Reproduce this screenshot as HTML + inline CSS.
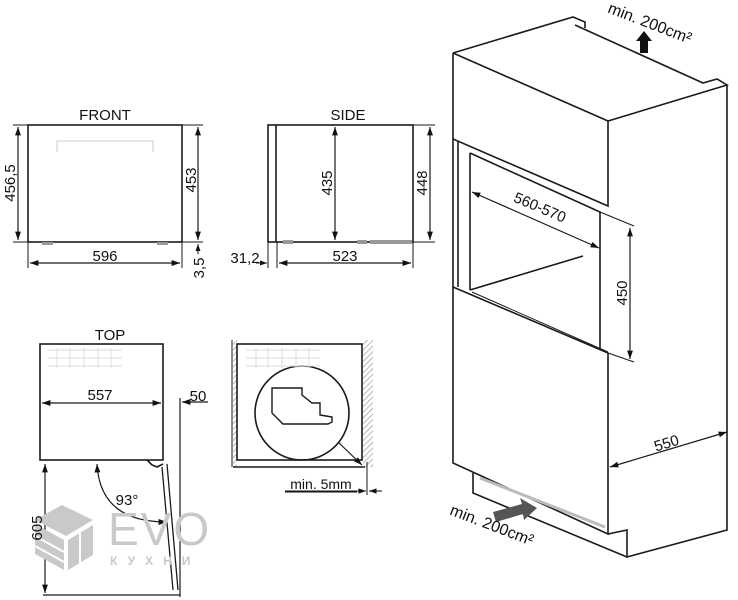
<!DOCTYPE html>
<html><head><meta charset="utf-8"><style>
html,body{margin:0;padding:0;background:#fff;}
svg{display:block;font-family:"Liberation Sans","DejaVu Sans",sans-serif;}
</style></head><body>
<svg width="738" height="600" viewBox="0 0 738 600" xmlns="http://www.w3.org/2000/svg">
<defs>
<marker id="a" viewBox="0 0 10 10" refX="10" refY="5" markerWidth="7" markerHeight="7" orient="auto-start-reverse"><path d="M0,1.5 L10,5 L0,8.5 z" fill="#111"/></marker>
<pattern id="h" width="4" height="4" patternUnits="userSpaceOnUse" patternTransform="rotate(45)"><line x1="0" y1="0" x2="0" y2="4" stroke="#888" stroke-width="1.2"/></pattern>
</defs>
<g stroke="#1a1a1a" stroke-width="1.6" fill="none">
<!-- FRONT -->
<rect x="28" y="125" width="154" height="117"/>
<path d="M57,152 V141 H153 V152" stroke="#ccc" stroke-width="1"/>
<line x1="18" y1="127" x2="18" y2="240" marker-start="url(#a)" marker-end="url(#a)" stroke-width="1.2"/>
<line x1="13" y1="125" x2="28" y2="125" stroke-width="1"/><line x1="13" y1="242" x2="28" y2="242" stroke-width="1"/>
<line x1="198" y1="127" x2="198" y2="240" marker-start="url(#a)" marker-end="url(#a)" stroke-width="1.2"/>
<line x1="182" y1="125" x2="203" y2="125" stroke-width="1"/><line x1="182" y1="242" x2="203" y2="242" stroke-width="1"/>
<line x1="198" y1="254" x2="198" y2="244" marker-end="url(#a)" stroke-width="1"/>
<line x1="30" y1="263" x2="180" y2="263" marker-start="url(#a)" marker-end="url(#a)" stroke-width="1.2"/>
<line x1="28" y1="242" x2="28" y2="268" stroke-width="1"/><line x1="182" y1="242" x2="182" y2="268" stroke-width="1"/>
<!-- SIDE -->
<rect x="268" y="125" width="145" height="117"/>
<line x1="276" y1="125" x2="276" y2="242"/>
<line x1="335" y1="127" x2="335" y2="240" marker-start="url(#a)" marker-end="url(#a)" stroke-width="1.2"/>
<line x1="430" y1="127" x2="430" y2="240" marker-start="url(#a)" marker-end="url(#a)" stroke-width="1.2"/>
<line x1="413" y1="125" x2="435" y2="125" stroke-width="1"/><line x1="413" y1="242" x2="435" y2="242" stroke-width="1"/>
<line x1="279" y1="263" x2="411" y2="263" marker-start="url(#a)" marker-end="url(#a)" stroke-width="1.2"/>
<line x1="268" y1="242" x2="268" y2="268" stroke-width="1"/><line x1="277" y1="242" x2="277" y2="268" stroke-width="1"/><line x1="413" y1="242" x2="413" y2="268" stroke-width="1"/>
<line x1="256" y1="263" x2="267" y2="263" marker-end="url(#a)" stroke-width="1"/>
<!-- TOP -->
<rect x="40" y="344" width="123" height="116"/>
<line x1="42" y1="403" x2="161" y2="403" marker-start="url(#a)" marker-end="url(#a)" stroke-width="1.2"/>
<path d="M147,460 L152,465 L157,467 L163,464"/>
<path d="M162,467 L173,590 M167,464 L178,590" stroke-width="1.3"/>
<line x1="180" y1="398" x2="180" y2="597" stroke-width="1.2"/>
<line x1="208" y1="402" x2="182" y2="402" marker-end="url(#a)" stroke-width="1.2"/>
<line x1="45" y1="464" x2="45" y2="593" marker-start="url(#a)" marker-end="url(#a)" stroke-width="1.2"/>
<line x1="43" y1="595" x2="180" y2="595" stroke-width="1.2"/>
<path d="M97,464 Q100,522 167,522" marker-start="url(#a)" marker-end="url(#a)" stroke-width="1.2"/>
<!-- TOP detail -->
<rect x="233" y="340" width="4" height="127" fill="url(#h)" stroke="none"/>
<rect x="363" y="340" width="10" height="127" fill="url(#h)" stroke="none"/>
<line x1="232" y1="340" x2="232" y2="467" stroke-width="1"/>
<rect x="237" y="344" width="125" height="116"/>
<line x1="233" y1="467" x2="365" y2="467"/>
<circle cx="302" cy="413" r="47"/>
<path d="M272,388 L302,388 L302,395 L312,403 L320,403 L320,415 L332,417 L332,422 L328,424 L283,424 L272,413 Z" stroke-width="1.4"/>
<line x1="338" y1="442" x2="362" y2="465" marker-end="url(#a)" stroke-width="1.2"/>
<line x1="367" y1="462" x2="367" y2="495" stroke-width="1"/>
<line x1="285" y1="491" x2="366" y2="491" marker-end="url(#a)" stroke-width="1.1"/>
<line x1="382" y1="491" x2="369" y2="491" marker-end="url(#a)" stroke-width="1.1"/>
<!-- CABINET -->
<path d="M453,53 L573,17 L585,22 L585,28"/>
<path d="M575,25 L703,83 L717,79 L727,85 L608,121 L453,53"/>
<path d="M453,53 V139 L608,206 V121 M727,85 V530 L627,557 V530 L608,534"/>
<path d="M453,139 V287 M458,141 V287"/>
<path d="M470,153 V290 M470,153 L600,212 V350 M470,290 L583,256"/>
<path d="M453,287 L608,353 V534 L453,463 V287 Z"/>
<path d="M472,292 L608,352" stroke-width="1"/>
<path d="M473,473 V493 L627,557"/>
<path d="M480,478 L605,527" stroke="#bbb" stroke-width="3"/>
<line x1="600" y1="212" x2="634" y2="226" stroke-width="1.1"/>
<line x1="608" y1="353" x2="634" y2="362" stroke-width="1.1"/>
<line x1="630" y1="228" x2="630" y2="359" marker-start="url(#a)" marker-end="url(#a)" stroke-width="1.2"/>
<line x1="472" y1="192" x2="599" y2="248" marker-start="url(#a)" marker-end="url(#a)" stroke-width="1.2"/>
<line x1="610" y1="467" x2="727" y2="432" marker-start="url(#a)" marker-end="url(#a)" stroke-width="1.2"/>
</g>
<!-- feet -->
<g fill="#999"><rect x="42" y="242" width="11" height="3"/><rect x="157" y="242" width="11" height="3"/>
<rect x="283" y="240" width="10" height="4"/><rect x="357" y="240" width="10" height="4"/><rect x="370" y="240" width="42" height="4"/></g>
<!-- faint grids -->
<g stroke="#ddd" stroke-width="1" fill="none">
<path d="M48,350 H122 M48,358 H122 M48,366 H122 M57,348 V368 M70,348 V368 M84,348 V368 M98,348 V368 M111,348 V368"/>
<path d="M246,350 H320 M246,358 H320 M246,366 H320 M256,348 V368 M268,348 V368 M282,348 V368 M296,348 V368 M309,348 V368"/>
</g>
<!-- arrows vents -->
<path d="M640,53 V41 H636 L644,31 L652,41 H648 V53 Z" fill="#111"/>
<path d="M493,512 L522,504 L520,498 L537,508 L524,520 L523,514 L496,522 Z" fill="#555"/>
<!-- watermark -->
<g fill="#c9c9c9">
<path d="M35,520 L62,505 L93,520 L66,536 Z"/>
<path d="M35,524 L64,540 V570 L35,554 Z"/>
<path d="M68,540 L93,525 V555 L68,570 Z"/>
<text x="108" y="545" font-size="46" letter-spacing="2">EVO</text>
<text x="110" y="565" font-size="12" font-weight="bold" letter-spacing="10">КУХНИ</text>
</g>
<g stroke="#fff" stroke-width="2"><line x1="35" y1="536" x2="64" y2="552"/><line x1="35" y1="546" x2="64" y2="562"/><line x1="80" y1="533" x2="80" y2="563"/></g>
<!-- text -->
<g fill="#111" font-size="15">
<text x="105" y="120" text-anchor="middle">FRONT</text>
<text x="348" y="120" text-anchor="middle">SIDE</text>
<text x="110" y="340" text-anchor="middle">TOP</text>
<text x="105" y="261" text-anchor="middle">596</text>
<text x="345" y="261" text-anchor="middle">523</text>
<text x="245" y="263" text-anchor="middle">31,2</text>
<text x="100" y="400" text-anchor="middle">557</text>
<text x="198" y="401" text-anchor="middle">50</text>
<text x="127" y="505" text-anchor="middle">93°</text>
<text transform="translate(15,183) rotate(-90)" text-anchor="middle">456,5</text>
<text transform="translate(196,180) rotate(-90)" text-anchor="middle">453</text>
<text transform="translate(204,268) rotate(-90)" text-anchor="middle">3,5</text>
<text transform="translate(332,183) rotate(-90)" text-anchor="middle">435</text>
<text transform="translate(427,183) rotate(-90)" text-anchor="middle">448</text>
<text transform="translate(42,528) rotate(-90)" text-anchor="middle">605</text>
<text x="321" y="489" text-anchor="middle" font-size="14">min. 5mm</text>
<text transform="translate(538,212) rotate(23)" text-anchor="middle">560-570</text>
<text transform="translate(627,293) rotate(-90)" text-anchor="middle">450</text>
<text transform="translate(668,448) rotate(-17)" text-anchor="middle">550</text>
<text transform="translate(648,28) rotate(21)" text-anchor="middle" font-size="16">min. 200cm²</text>
<text transform="translate(490,530) rotate(21)" text-anchor="middle" font-size="16">min. 200cm²</text>
</g>
<line x1="285" y1="492" x2="357" y2="492" stroke="#111" stroke-width="1"/>
</svg>
</body></html>
